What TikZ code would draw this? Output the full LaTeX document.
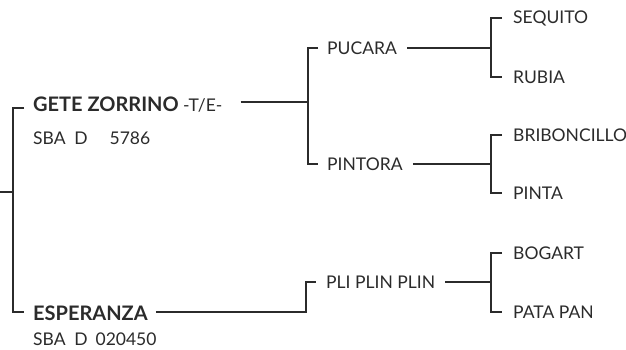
\documentclass[tikz,border=0pt]{standalone}
\usepackage{fontspec}
\setmainfont{Lato}
\definecolor{ink}{HTML}{2B2B2B}
\newcommand{\bigbold}[1]{{\fontsize{20}{22}\selectfont\bfseries #1}}
\begin{document}
\begin{tikzpicture}[x=1pt,y=-1pt,
  lbl/.style={anchor=west,inner sep=0pt,font=\fontsize{17.5}{19}\selectfont,text=ink},
  ln/.style={draw=ink,line width=1.1pt}]
\useasboundingbox (0,0) rectangle (626,350);
% coordinates of the vertical bars
\coordinate (v0) at (13,0);
\coordinate (v1) at (308,0);
\coordinate (v1b) at (306,0);
\coordinate (v2) at (491,0);
% nodes
\node[lbl] (gete) at (33,105) {\bigbold{GETE ZORRINO} -T/E-};
\node[lbl] (sba1) at (33,138) {SBA\hspace{0.5em}D\hspace{1.25em}5786};
\node[lbl] (esp) at (33,313) {\bigbold{ESPERANZA}};
\node[lbl] (sba2) at (33,339) {SBA\hspace{0.5em}D\hspace{0.45em}020450};
\node[lbl] (pucara) at (327,48) {PUCARA};
\node[lbl] (pintora) at (327,164) {PINTORA};
\node[lbl] (pli) at (326,282) {PLI PLIN PLIN};
\node[lbl] (sequito) at (513,18) {SEQUITO};
\node[lbl] (rubia) at (513,77) {RUBIA};
\node[lbl] (bribon) at (513,135) {BRIBONCILLO};
\node[lbl] (pinta) at (513,193) {PINTA};
\node[lbl] (bogart) at (513,253) {BOGART};
\node[lbl] (patapan) at (513,312) {PATA PAN};
% root bracket
\coordinate (rootin) at (0,192);
\draw[ln] (rootin) -- (rootin -| v0);
\draw[ln] ([xshift=-9pt,yshift=-3pt]gete.west) -| ([yshift=1pt]esp.west -| v0) -- ([xshift=-9pt,yshift=1pt]esp.west);
% gete -> pucara / pintora
\draw[ln] ([xshift=18pt,yshift=3pt]gete.east) -- ([yshift=3pt]gete.east -| v1);
\draw[ln] ([xshift=-9pt]pucara.west) -| (pintora.west -| v1) -- ([xshift=-9pt]pintora.west);
% esperanza -> pli plin plin
\draw[ln] ([xshift=8pt,yshift=1pt]esp.east) -- ([yshift=1pt]esp.east -| v1b) |- ([xshift=-10pt]pli.west);
% pucara -> sequito / rubia
\draw[ln] ([xshift=10pt]pucara.east) -- (pucara.east -| v2);
\draw[ln] ([xshift=-11pt]sequito.west) -| (rubia.west -| v2) -- ([xshift=-11pt]rubia.west);
% pintora -> briboncillo / pinta
\draw[ln] ([xshift=10pt]pintora.east) -- (pintora.east -| v2);
\draw[ln] ([xshift=-11pt]bribon.west) -| (pinta.west -| v2) -- ([xshift=-11pt]pinta.west);
% pli plin plin -> bogart / pata pan
\draw[ln] ([xshift=10pt]pli.east) -- (pli.east -| v2);
\draw[ln] ([xshift=-11pt]bogart.west) -| (patapan.west -| v2) -- ([xshift=-11pt]patapan.west);
\end{tikzpicture}
\end{document}
